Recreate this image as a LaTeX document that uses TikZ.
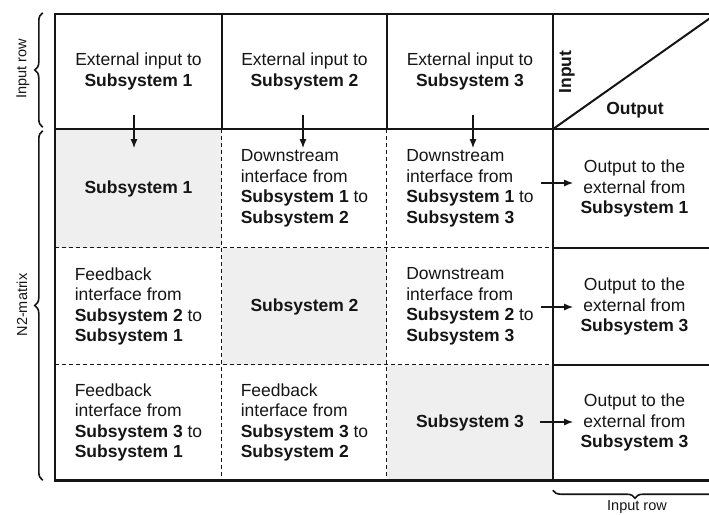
\documentclass[tikz,border=0pt]{standalone}
\usepackage{fontspec}
\setmainfont{Liberation Sans}
\usetikzlibrary{arrows.meta,decorations.pathreplacing}
\definecolor{ink}{HTML}{151515}
\definecolor{shade}{HTML}{EFEFEF}
\begin{document}
\begin{tikzpicture}[x=1pt,y=-1pt,
  cell/.style 2 args={inner sep=0pt, minimum width=#1, minimum height=#2,
    text=ink, font=\fontsize{17.5}{20.5}\selectfont},
  lcell/.style 2 args={cell={#1}{#2}, align=left},
  ccell/.style 2 args={cell={#1}{#2}, align=center},
  diag/.style={fill=shade},
  frame/.style={draw=ink, line width=2.6pt},
  solidline/.style={draw=ink, line width=2.6pt},
  dashline/.style={draw=ink, line width=1.3pt, dash pattern=on 4pt off 3pt},
  arr/.style={draw=ink, line width=1.5pt, -{Latex[length=9pt,width=7pt]}},
  brace/.style={draw=ink, line width=1.6pt, decorate,
    decoration={brace, amplitude=8pt}},
  side/.style={text=ink, font=\fontsize{14.5}{16}\selectfont, inner sep=0pt}]
\useasboundingbox (0,0) rectangle (709,514);
\clip (0,0) rectangle (709,514);

% input row
\node[ccell={167}{115}] (i1) at (138.5,71.5) {External input to\\\textbf{Subsystem 1}};
\node[ccell={165}{115}] (i2) at (304.5,71.5) {External input to\\\textbf{Subsystem 2}};
\node[ccell={166}{115}] (i3) at (470,71.5) {External input to\\\textbf{Subsystem 3}};
\node[ccell={163}{115}] (k) at (634.5,71.5) {};

% row 1
\node[ccell={167}{119}, diag] (c11) at (138.5,188.5) {\textbf{Subsystem 1}};
\node[lcell={165}{119}] (c12) at (304.5,188.5) {Downstream\\interface from\\\textbf{Subsystem 1} to\\\textbf{Subsystem 2}};
\node[lcell={166}{119}] (c13) at (470,188.5) {Downstream\\interface from\\\textbf{Subsystem 1} to\\\textbf{Subsystem 3}};
\node[ccell={163}{119}] (o1) at (634.5,188.5) {Output to the\\external from\\\textbf{Subsystem 1}};

% row 2
\node[lcell={167}{117}] (c21) at (138.5,306.5) {Feedback\\interface from\\\textbf{Subsystem 2} to\\\textbf{Subsystem 1}};
\node[ccell={165}{117}, diag] (c22) at (304.5,306.5) {\textbf{Subsystem 2}};
\node[lcell={166}{117}] (c23) at (470,306.5) {Downstream\\interface from\\\textbf{Subsystem 2} to\\\textbf{Subsystem 3}};
\node[ccell={163}{117}] (o2) at (634.5,306.5) {Output to the\\external from\\\textbf{Subsystem 3}};

% row 3
\node[lcell={167}{115}] (c31) at (138.5,422.5) {Feedback\\interface from\\\textbf{Subsystem 3} to\\\textbf{Subsystem 1}};
\node[lcell={165}{115}] (c32) at (304.5,422.5) {Feedback\\interface from\\\textbf{Subsystem 3} to\\\textbf{Subsystem 2}};
\node[ccell={166}{115}, diag] (c33) at (470,422.5) {\textbf{Subsystem 3}};
\node[ccell={163}{115}] (o3) at (634.5,422.5) {Output to the\\external from\\\textbf{Subsystem 3}};

% dashed interfaces inside the matrix
\draw[dashline] (c12.north west) -- (c32.south west);
\draw[dashline] (c13.north west) -- (c33.south west);
\draw[dashline] (c21.north west) -- (c23.north east);
\draw[dashline] (c31.north west) -- (c33.north east);

% solid rules
\draw[solidline] (c11.north west) -- (o1.north east);
\draw[solidline] (i2.north west) -- (i2.south west);
\draw[solidline] (i3.north west) -- (i3.south west);
\draw[solidline] (k.north west) -- (o3.south west);
\draw[solidline] (o2.north west) -- (o2.north east);
\draw[solidline] (o3.north west) -- (o3.north east);
\draw[draw=ink, line width=2pt] (k.south west) -- (k.north east);
\draw[frame] (i1.north west) rectangle (o3.south east);

% corner labels
\node[text=ink, font=\fontsize{17.5}{20}\selectfont\bfseries, rotate=90, inner sep=0pt] (kin) at (567,72) {Input};
\node[text=ink, font=\fontsize{17.5}{20}\selectfont\bfseries, inner sep=0pt] (kout) at (635,110) {Output};

% external inputs
\draw[arr] ([shift={(-4.5,-14)}]i1.south) -- ([shift={(-4.5,19)}]i1.south);
\draw[arr] ([shift={(-1.5,-14)}]i2.south) -- ([shift={(-1.5,19)}]i2.south);
\draw[arr] ([shift={(3,-14)}]i3.south) -- ([shift={(3,19)}]i3.south);

% outputs to the external
\draw[arr] ([shift={(-12,-5.5)}]c13.east) -- ([shift={(20,-5.5)}]c13.east);
\draw[arr] ([shift={(-12,0.5)}]c23.east) -- ([shift={(20,0.5)}]c23.east);
\draw[arr] ([shift={(-13,-0.5)}]c33.east) -- ([shift={(20,-0.5)}]c33.east);

% braces
\draw[brace] ([shift={(-12,-2)}]i1.south west) -- ([shift={(-12,-1)}]i1.north west);
\draw[brace] ([shift={(-12,0)}]c31.south west) -- ([shift={(-12,2)}]c11.north west);
\draw[brace] ([shift={(1,10)}]o3.south east) -- ([shift={(0,10)}]o3.south west);
\node[side, rotate=90] (lin) at (23,69) {Input row};
\node[side, rotate=90] (lmat) at (22,305) {N2-matrix};
\node[side] (lbot) at (637,507) {Input row};
\end{tikzpicture}
\end{document}
